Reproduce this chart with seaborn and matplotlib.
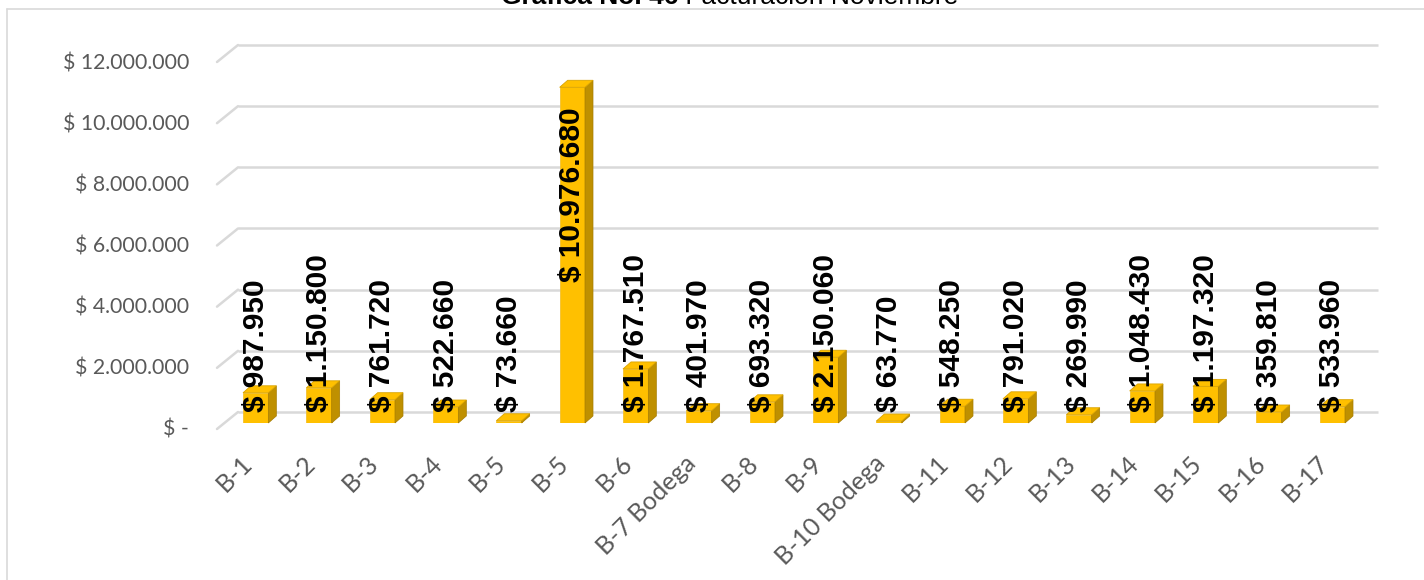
import numpy as np
import pandas as pd
import matplotlib
matplotlib.use("Agg")
import matplotlib.pyplot as plt
import seaborn as sns
from matplotlib.transforms import ScaledTranslation
from matplotlib.patches import Polygon, ConnectionPatch, Rectangle
from matplotlib.lines import Line2D

# ---------------- data ----------------
categories = ["B-1", "B-2", "B-3", "B-4", "B-5", "B-5", "B-6", "B-7 Bodega", "B-8",
              "B-9", "B-10 Bodega", "B-11", "B-12", "B-13", "B-14", "B-15", "B-16", "B-17"]
values = [987950, 1150800, 761720, 522660, 73660, 10976680, 1767510, 401970, 693320,
          2150060, 63770, 548250, 791020, 269990, 1048430, 1197320, 359810, 533960]
y_ticks = [0, 2000000, 4000000, 6000000, 8000000, 10000000, 12000000]
y_tick_labels = ["$ -", "$ 2.000.000", "$ 4.000.000", "$ 6.000.000",
                 "$ 8.000.000", "$ 10.000.000", "$ 12.000.000"]
title_bold = "Gráfica No. 46"
title_rest = " Facturación Noviembre"

# ---------------- style ----------------
sns.set_style("white")
plt.rcParams['font.family'] = ['Lato', 'DejaVu Sans']

W, H = 1424, 580
fig = plt.figure(figsize=(W / 100, H / 100), dpi=100)
ax = fig.add_axes([224 / W, (H - 423) / H, 1140 / W, 367 / H])

df = pd.DataFrame({"pos": np.arange(len(values)), "value": values})
sns.barplot(data=df, x="pos", y="value", color="#FFC000", saturation=1, width=0.4,
            edgecolor="#F2C12E", linewidth=0.6, ax=ax, zorder=3)
bars = [p for p in ax.patches if isinstance(p, Rectangle)]

ax.set_xlim(-0.5, len(values) - 0.5)
ax.set_ylim(0, 12000000)
for s in ax.spines.values():
    s.set_visible(False)
ax.set_xlabel("")
ax.set_ylabel("")

def px_off(dx, dy):
    return ScaledTranslation(dx / 100, dy / 100, fig.dpi_scale_trans)

trans_front = ax.transData + px_off(-7, -6)
trans_back = ax.transData + px_off(14, 11)

grid_c = "#D9D9D9"
# back wall gridlines
ax.hlines(y_ticks, -0.5, len(values) - 0.5, transform=trans_back, color=grid_c,
          lw=1.8, zorder=0, clip_on=False)
# floor/side diagonals
for v in y_ticks:
    cp = ConnectionPatch(xyA=(-0.5, v), coordsA=trans_front, xyB=(-0.5, v), coordsB=trans_back,
                         color=grid_c, lw=1.8, zorder=0, clip_on=False)
    ax.add_artist(cp)

# 3D faces of the bars
inv = ax.transData.inverted()
o = ax.transData.transform((0, 0))
ddx, ddy = inv.transform(o + np.array([8, 7])) - inv.transform(o)
for p in bars:
    x0 = p.get_x(); w = p.get_width(); h = p.get_height(); x1 = x0 + w
    side = Polygon([(x1, 0), (x1, h), (x1 + ddx, h + ddy), (x1 + ddx, ddy)], closed=True,
                   facecolor="#BF9000", edgecolor="#A67C00", lw=0.5, zorder=3, clip_on=False)
    top = Polygon([(x0, h), (x1, h), (x1 + ddx, h + ddy), (x0 + ddx, h + ddy)], closed=True,
                  facecolor="#FFC000", edgecolor="#D9A300", lw=0.6, zorder=3, clip_on=False)
    ax.add_patch(side)
    ax.add_patch(top)

# y tick labels on the front plane
ax.set_yticks(y_ticks)
ax.set_yticklabels(y_tick_labels)
ax.tick_params(axis="y", length=0, pad=25, labelsize=15.3, labelcolor="#595959")
for lab in ax.get_yticklabels():
    lab.set_transform(lab.get_transform() + px_off(0, -5))

# x tick labels
ax.set_xticks(np.arange(len(categories)))
ax.set_xticklabels(categories, rotation=45, ha="right", rotation_mode="anchor", va="baseline")
ax.tick_params(axis="x", length=0, pad=30, labelsize=18, labelcolor="#595959")
for lab in ax.get_xticklabels():
    lab.set_transform(lab.get_transform() + px_off(-2, 0))

# data labels
for i, v in enumerate(values):
    txt = "$ " + f"{v:,}".replace(",", ".")
    if v > 5000000:
        ax.annotate(txt, xy=(i, v), xytext=(0, -20), textcoords="offset pixels",
                    rotation=90, ha="center", va="top", fontsize=21.5, fontweight="bold",
                    family="Liberation Sans", color="black", zorder=10)
    else:
        ax.annotate(txt, xy=(i, 0), xytext=(0, 11), textcoords="offset pixels",
                    rotation=90, ha="center", va="bottom", fontsize=21.5, fontweight="bold",
                    family="Liberation Sans", color="black", zorder=10)

# chart border lines
fig.add_artist(Line2D([7 / W, 7 / W], [0, 1 - 9 / H], transform=fig.transFigure, color="#D9D9D9", lw=1.2))
fig.add_artist(Line2D([7 / W, 1], [1 - 9 / H, 1 - 9 / H], transform=fig.transFigure, color="#D9D9D9", lw=1.2))

# title (cropped at the top like the reference)
t1 = fig.text(501 / W, 1 - 4 / H, title_bold, ha="left", va="baseline", fontsize=19,
              fontweight="bold", family="Liberation Sans", color="black")
fig.canvas.draw()
bb = t1.get_window_extent()
fig.text(bb.x1 / W, 1 - 4 / H, title_rest, ha="left", va="baseline", fontsize=19,
         family="Liberation Sans", color="black")

fig.savefig("out.png", dpi=100)
